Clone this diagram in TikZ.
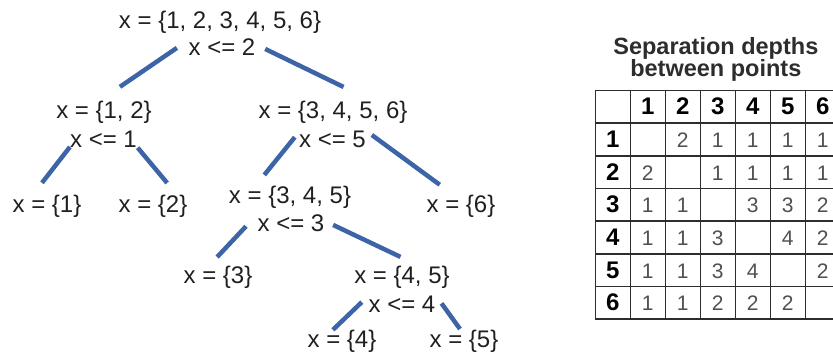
\documentclass[tikz,border=0pt]{standalone}
\usepackage{fontspec}
\setmainfont{Liberation Sans}
\usepackage{tikz}
\usetikzlibrary{matrix,positioning}

\definecolor{branchblue}{RGB}{62,100,168}
\definecolor{inkgray}{RGB}{32,32,32}
\definecolor{cellgray}{RGB}{80,80,80}
\definecolor{rulegray}{RGB}{45,45,45}

\begin{document}
\begin{tikzpicture}[x=1pt,y=-1pt,
        lbl/.style={anchor=base, inner sep=0pt, text height=17pt, text depth=5pt,
                font=\fontsize{24}{24}\selectfont, text=inkgray},
        branch/.style={draw=branchblue, line width=4.5pt},
        hdr/.style={font=\fontsize{24}{24}\selectfont\bfseries, text=black}]
        \useasboundingbox (0,0) rectangle (833,359);
        \clip (0,0) rectangle (833,359);
        \node[lbl] (r1) at (220,28) {x = \{1, 2, 3, 4, 5, 6\}};
        \node[lbl] (r2) at (222,55) {x <= 2};
        \node[lbl] (a1) at (104,118) {x = \{1, 2\}};
        \node[lbl] (a2) at (103.5,147) {x <= 1};
        \node[lbl] (b1) at (333,118) {x = \{3, 4, 5, 6\}};
        \node[lbl] (b2) at (332.5,147) {x <= 5};
        \node[lbl] (l1) at (47,212) {x = \{1\}};
        \node[lbl] (l2) at (153,212) {x = \{2\}};
        \node[lbl] (c1) at (290,203) {x = \{3, 4, 5\}};
        \node[lbl] (c2) at (291,231) {x <= 3};
        \node[lbl] (l6) at (461,212) {x = \{6\}};
        \node[lbl] (l3) at (218,283) {x = \{3\}};
        \node[lbl] (d1) at (402,283) {x = \{4, 5\}};
        \node[lbl] (d2) at (402,312) {x <= 4};
        \node[lbl] (l4) at (342,347) {x = \{4\}};
        \node[lbl] (l5) at (464,347) {x = \{5\}};
        \draw[branch, shorten <=14pt, shorten >=24.8pt] (r2.165) -- (a1.112);
        \draw[branch, shorten <=10.7pt, shorten >=31.7pt] (r2.8) -- (b1.16);
        \draw[branch, shorten >=15.2pt] (a2.190) -- (l1.142);
        \draw[branch, shorten <=1pt, shorten >=15.4pt] (a2.350) -- (l2.25);
        \draw[branch, shorten <=6.6pt, shorten >=14pt] (b2.165) -- (c1.162);
        \draw[branch, shorten <=7.2pt, shorten >=17pt] (b2.17) -- (l6.124);
        \draw[branch, shorten <=16.7pt, shorten >=12pt] (c2.162) -- (l3.129);
        \draw[branch, shorten <=9.5pt, shorten >=20.8pt] (c2.7) -- (d1.33);
        \draw[branch, shorten <=9.2pt] (d2.163) -- (l4.129);
        \draw[branch, shorten <=10.2pt, shorten >=1pt] (d2.18) -- (l5.107);
        \matrix (depths) [matrix of nodes, nodes in empty cells, anchor=north west,
                column sep=-1.6pt, row sep=-1.6pt,
                nodes={anchor=center, draw=rulegray, line width=1.6pt, inner sep=0pt,
                        text height=16pt, text depth=0pt,
                        minimum width=35pt, minimum height=32.7pt,
                        font=\fontsize{21}{21}\selectfont, text=cellgray},
                row 1/.style={nodes={hdr}}, column 1/.style={nodes={hdr}}]
                at (591,86) {
                  & 1 & 2 & 3 & 4 & 5 & 6 \\
                1 &   & 2 & 1 & 1 & 1 & 1 \\
                2 & 2 &   & 1 & 1 & 1 & 1 \\
                3 & 1 & 1 &   & 3 & 3 & 2 \\
                4 & 1 & 1 & 3 &   & 4 & 2 \\
                5 & 1 & 1 & 3 & 4 &   & 2 \\
                6 & 1 & 1 & 2 & 2 & 2 &   \\
                };
        \node[above=4pt of depths, xshift=-2pt, align=center, inner sep=0pt, text=rulegray,
                font=\fontsize{23.5}{22}\selectfont\bfseries] (title) {Separation depths\\between points};
\end{tikzpicture}
\end{document}
